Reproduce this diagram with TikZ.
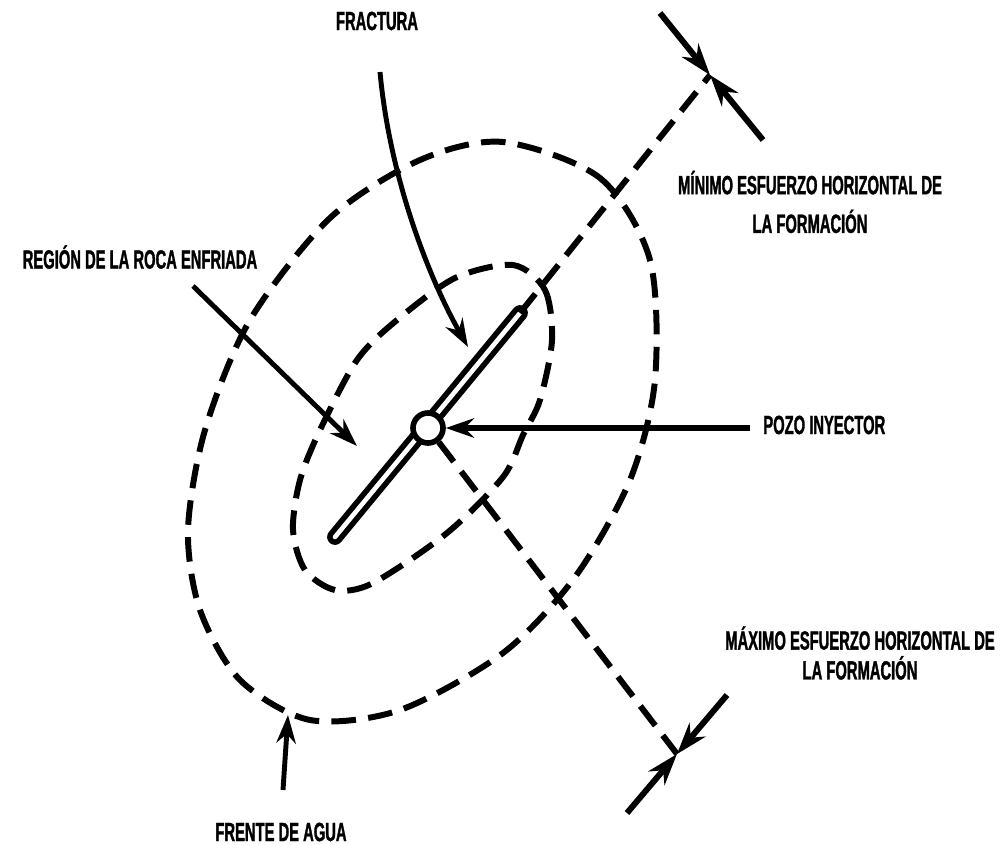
\documentclass[tikz,border=0pt]{standalone}
\usepackage{fontspec}
\newfontfamily\rotfont[FakeStretch=0.56,FakeBold=1.2]{Liberation Sans}
\usetikzlibrary{arrows.meta}

\tikzset{
	lbl/.style={font=\rotfont\bfseries\fontsize{15}{20}\selectfont, inner sep=0pt, align=center},
	dashline/.style={line width=3.4pt, dash pattern=on 14pt off 7pt},
	flecha/.style={line width=2.8pt, -{Stealth[length=16pt,width=11pt]}},
	esfuerzo/.style={line width=3.4pt, -{Stealth[length=18pt,width=12pt]}},
}

\begin{document}
\begin{tikzpicture}[x=0.02cm,y=-0.02cm]
	\useasboundingbox (0,0) rectangle (1008,845);

	% frente de agua y roca enfriada
	\draw[dashline] plot[smooth cycle] coordinates {(503,142) (600,178) (650,260) (655,380) (630,480) (575,577) (503,653) (400,710) (310,720) (240,680) (200,610) (188,530) (205,430) (250,320) (330,218) (420,160)};
	\draw[dashline] plot[smooth cycle] coordinates {(513,265) (545,290) (552,340) (540,400) (523,435) (503,477) (447,533) (373,583) (335,590) (305,570) (293,530) (300,480) (320,430) (357,360) (397,320) (455,278)};

	% fractura y pozo
	\coordinate (f1) at (335,537);
	\coordinate (f2) at (520,313);
	\draw[line width=9pt,line cap=round] (f1) -- (f2);
	\draw[line width=2.6pt,line cap=round,white] (f1) -- (f2);
	\node[circle,draw,fill=white,line width=3.2pt,minimum size=0.6cm,inner sep=0pt] (pozo) at (428,428) {};

	% ejes de esfuerzo
	\coordinate (minx) at (710,75);
	\coordinate (maxx) at (677,754);
	\draw[dashline] (f2) -- (minx);
	\draw[dashline] (pozo) -- (maxx);

	\coordinate (mina) at (660,13);
	\coordinate (minb) at (763,140);
	\draw[esfuerzo] (mina) -- (minx);
	\draw[esfuerzo] (minb) -- (minx);
	\coordinate (maxa) at (727,695);
	\coordinate (maxb) at (627,813);
	\draw[esfuerzo] (maxa) -- (maxx);
	\draw[esfuerzo] (maxb) -- (maxx);

	% textos
	\node[lbl] (fractura) at (377,21) {FRACTURA};
	\node[lbl] (region) at (140,257) {REGIÓN DE LA ROCA ENFRIADA};
	\node[lbl,anchor=west] (pozoinj) at (763,425) {POZO INYECTOR};
	\node[lbl] (frente) at (281,832) {FRENTE DE AGUA};
	\node[lbl] (minimo) at (810,202) {MÍNIMO ESFUERZO HORIZONTAL DE\\[2pt] LA FORMACIÓN};
	\node[lbl] (maximo) at (860,653) {MÁXIMO ESFUERZO HORIZONTAL DE\\[-3pt] LA FORMACIÓN};

	% flechas
	\coordinate (fr-a) at (380,72);
	\coordinate (fr-b) at (468,347);
	\draw[flecha] (fr-a) .. controls (390,180) and (430,280) .. (fr-b);
	\coordinate (re-a) at (193,286);
	\coordinate (re-b) at (357,446);
	\draw[flecha] (re-a) -- (re-b);
	\coordinate (po-a) at (750,428);
	\draw[flecha,line width=3.8pt] (po-a) -- (pozo);
	\coordinate (fa-a) at (283,790);
	\coordinate (fa-b) at (288,715);
	\draw[flecha] (fa-a) -- (fa-b);

\end{tikzpicture}
\end{document}
